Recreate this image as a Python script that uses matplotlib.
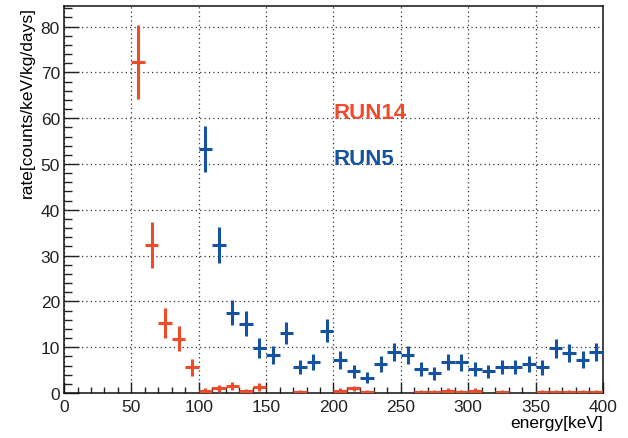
import matplotlib.pyplot as plt
from matplotlib.ticker import MultipleLocator

plt.rcParams['font.family'] = ['Liberation Sans', 'DejaVu Sans']

# RUN14 spectrum (bin centres in keV, rate, error)
run14_e = [55, 65, 75, 85, 95, 105, 115, 125, 135, 145, 175, 205, 215, 225,
           265, 275, 285, 295, 305, 325, 355, 365, 375, 385, 395]
run14_rate = [72.3, 32.3, 15.3, 11.9, 5.6, 0.5, 1.0, 1.5, 0.4, 1.3, 0.3, 0.5, 1.0, 0.3,
              0.3, 0.3, 0.5, 0.3, 0.5, 0.3, 0.3, 0.3, 0.3, 0.3, 0.3]
run14_err = [8.0, 5.1, 3.3, 2.8, 1.9, 0.5, 0.7, 0.8, 0.4, 0.8, 0.3, 0.5, 0.6, 0.3,
             0.3, 0.3, 0.5, 0.3, 0.5, 0.3, 0.3, 0.3, 0.3, 0.3, 0.3]

# RUN5 spectrum
run5_e = [105, 115, 125, 135, 145, 155, 165, 175, 185, 195, 205, 215, 225, 235, 245,
          255, 265, 275, 285, 295, 305, 315, 325, 335, 345, 355, 365, 375, 385, 395]
run5_rate = [53.3, 32.3, 17.5, 15.1, 9.8, 8.3, 13.1, 5.7, 6.8, 13.6, 7.2, 4.7, 3.3, 6.3, 8.9,
             8.3, 5.2, 4.3, 6.8, 6.7, 5.2, 4.7, 5.7, 5.7, 6.3, 5.6, 9.8, 8.7, 7.3, 8.9]
run5_err = [5.0, 4.0, 2.7, 2.7, 2.2, 2.0, 2.4, 1.6, 1.7, 2.5, 2.0, 1.5, 1.2, 1.7, 2.0,
            2.0, 1.5, 1.4, 1.8, 1.8, 1.5, 1.5, 1.6, 1.6, 1.7, 1.6, 2.1, 2.0, 1.8, 2.0]

red = '#EE4B2B'
blue = '#1652A2'

fig = plt.figure(figsize=(6.28, 4.39), dpi=100)
ax = fig.add_axes([0.102, 0.1025, 0.858, 0.8815])

ax.errorbar(run14_e, run14_rate, xerr=5, yerr=run14_err, fmt='none',
            ecolor=red, elinewidth=2.2, zorder=3)
ax.errorbar(run5_e, run5_rate, xerr=5, yerr=run5_err, fmt='none',
            ecolor=blue, elinewidth=2.2, zorder=3)

ax.text(200, 60, 'RUN14', color=red, fontsize=16, fontweight='bold')
ax.text(200, 50, 'RUN5', color=blue, fontsize=16, fontweight='bold')

ax.set_xlim(0, 400)
ax.set_ylim(0, 84.5)
ax.xaxis.set_major_locator(MultipleLocator(50))
ax.xaxis.set_minor_locator(MultipleLocator(10))
ax.yaxis.set_major_locator(MultipleLocator(10))
ax.yaxis.set_minor_locator(MultipleLocator(2))

ax.grid(True, which='major', color='#333333', linestyle=(0, (1, 2.5)), linewidth=0.9)
ax.set_axisbelow(True)

ax.tick_params(axis='both', which='both', direction='in', top=False, right=False,
               colors='#222222', labelsize=12.5, width=1.0)
ax.tick_params(axis='y', which='major', length=11, pad=3)
ax.tick_params(axis='y', which='minor', length=6)
ax.tick_params(axis='x', which='major', length=8, pad=4)
ax.tick_params(axis='x', which='minor', length=4.5)
for s in ax.spines.values():
    s.set_linewidth(1.1)
    s.set_color('#111111')

ax.set_xlabel('energy[keV]', fontsize=12.5, loc='right', labelpad=1)
ax.set_ylabel('rate[counts/keV/kg/days]', fontsize=12.5, loc='top', labelpad=4)

fig.savefig('out.png', dpi=100)
